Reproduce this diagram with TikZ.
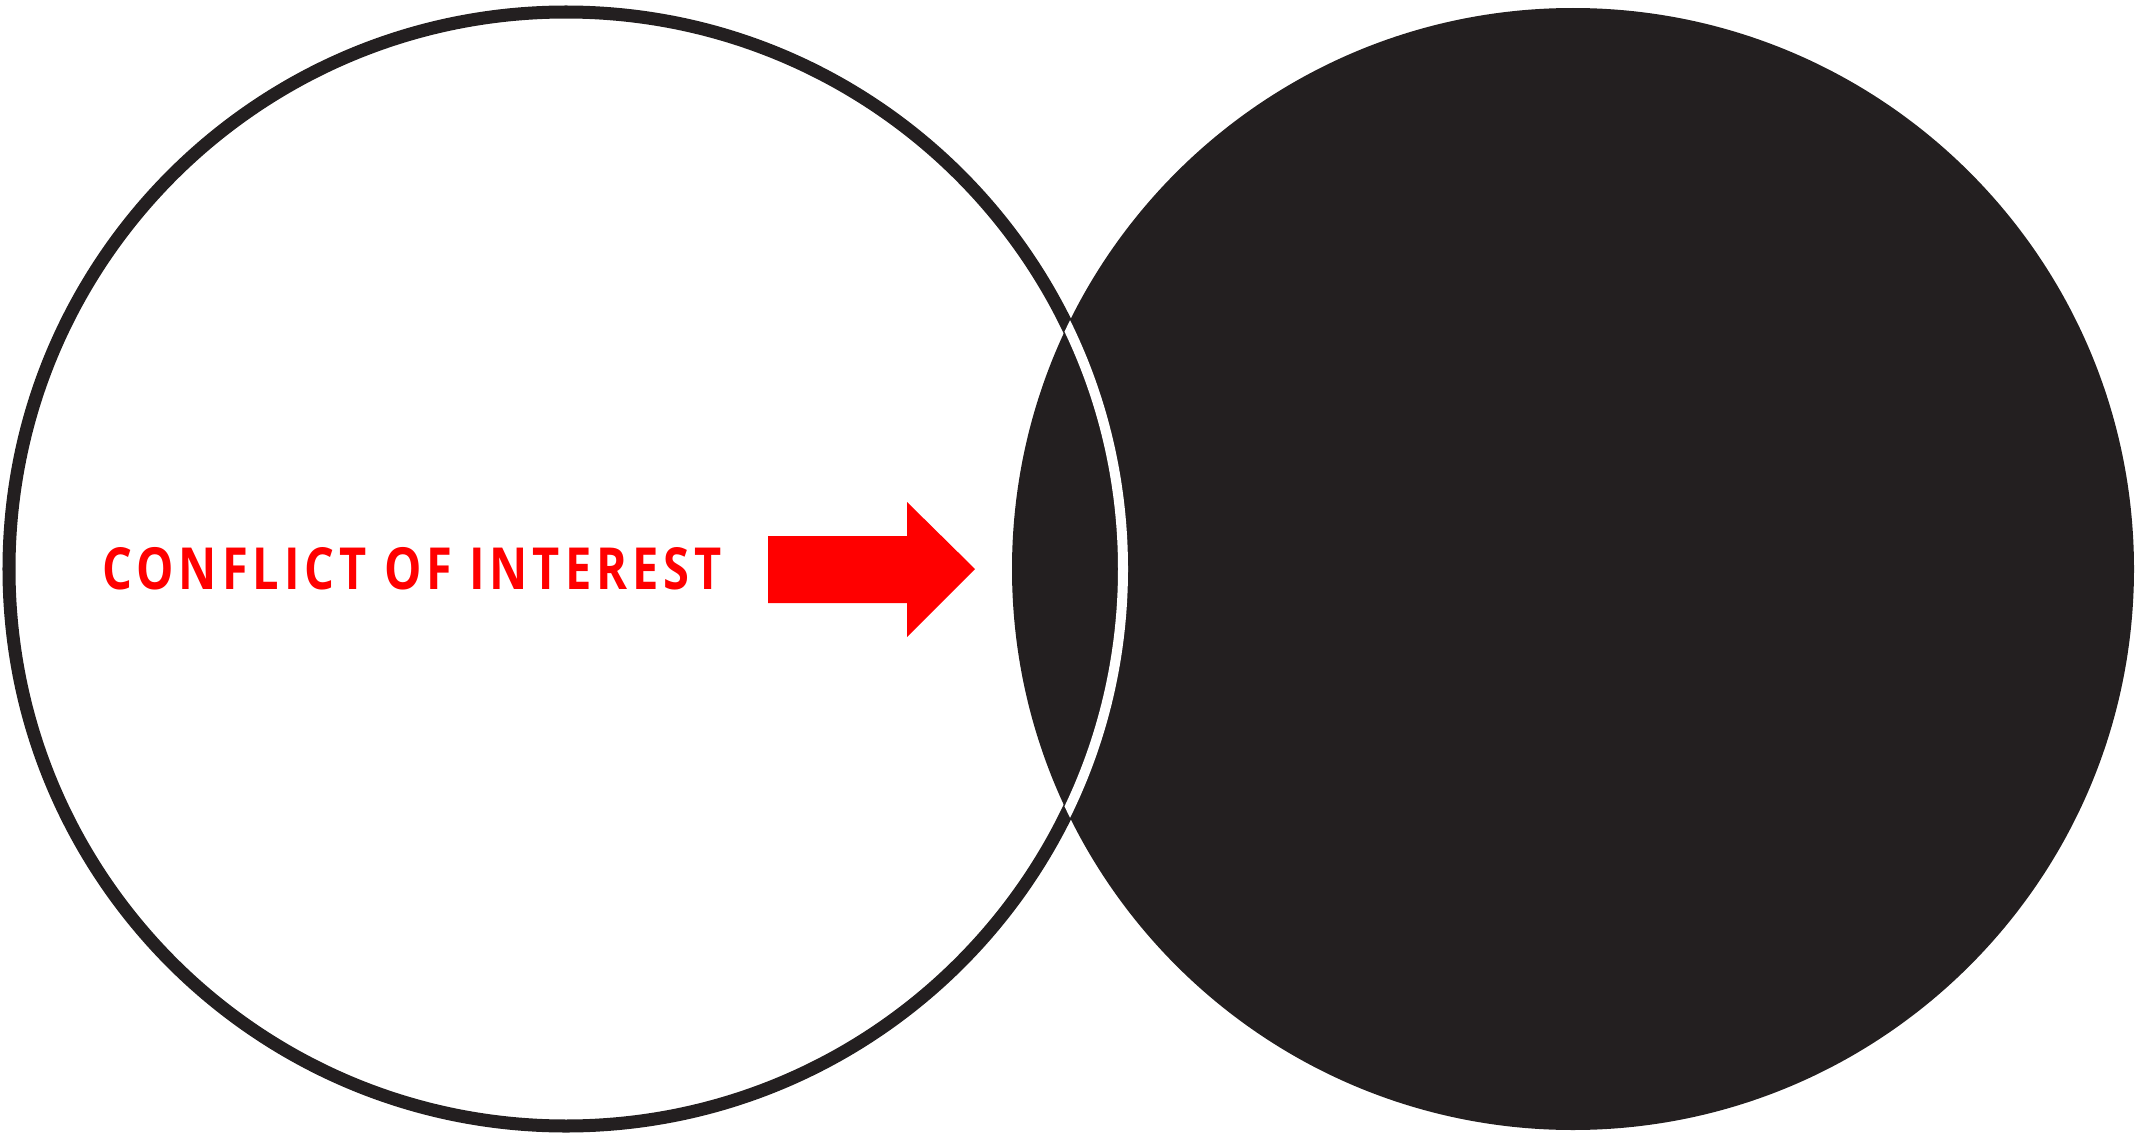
\documentclass[tikz,border=0pt]{standalone}
\usepackage{xcolor}
\usepackage{fontspec}
\newfontfamily\coifont[FakeStretch=0.81, LetterSpace=8.5]{Open Sans}
\definecolor{inkblack}{HTML}{231F20}

\begin{document}
\begin{tikzpicture}[x=0.01cm, y=0.01cm,
    ring/.style={draw=inkblack, line width=0.13cm},
    gapline/.style={draw=white, line width=0.1cm},
    label/.style={text=red, font=\coifont\bfseries\fontsize{16.5}{18}\selectfont, inner sep=0pt}]
            \useasboundingbox (0,0) rectangle (2138,1135);
            \coordinate (lc) at (566,566);
            \coordinate (rc) at (1573,566);
            % Open circle
            \draw[ring] (lc) circle (557);
            % Filled circle
            \fill[inkblack] (rc) circle (561);
            % Outline of the open circle inside the filled one
            \begin{scope}
                \clip (rc) circle (561);
                \draw[gapline] (lc) circle (557);
            \end{scope}
            % Label and arrow
            \node[label, anchor=base west] (coi) at (102,546) {CONFLICT OF INTEREST};
            \fill[red] (768,532) -- (907,532) -- (907,498) -- (975,566)
                -- (907,633) -- (907,599) -- (768,599) -- cycle;
        \end{tikzpicture}
\end{document}
